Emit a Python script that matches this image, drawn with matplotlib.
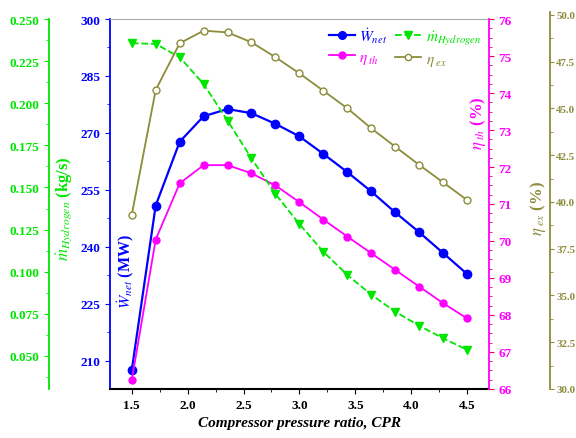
import numpy as np
import matplotlib
matplotlib.use("Agg")
import matplotlib.pyplot as plt
from matplotlib.ticker import MultipleLocator, FormatStrFormatter
from matplotlib.lines import Line2D

plt.rcParams["font.family"] = ["Liberation Serif", "DejaVu Serif"]
plt.rcParams["mathtext.fontset"] = "stix"

# compressor pressure ratio
cpr = [1.5, 1.714, 1.929, 2.143, 2.357, 2.571, 2.786, 3.0,
       3.214, 3.429, 3.643, 3.857, 4.071, 4.286, 4.5]

w_net = [207.6, 250.9, 267.7, 274.4, 276.3, 275.2, 272.4, 269.1,
         264.5, 259.7, 254.6, 249.1, 243.9, 238.4, 232.9]          # MW
m_h2 = [0.2356, 0.2352, 0.2273, 0.2114, 0.1897, 0.1673, 0.1461, 0.1283,
        0.1119, 0.0981, 0.0864, 0.0763, 0.0680, 0.0605, 0.0537]    # kg/s
eta_th = [66.24, 70.04, 71.56, 72.05, 72.05, 71.83, 71.50, 71.05,
          70.58, 70.12, 69.67, 69.22, 68.77, 68.32, 67.91]         # %
eta_ex = [39.32, 45.99, 48.49, 49.16, 49.07, 48.54, 47.74, 46.88,
          45.95, 45.01, 43.94, 42.96, 41.99, 41.05, 40.11]         # %

BLUE = "#0000ff"
GREEN = "#00e600"
MAGENTA = "#ff00ff"
OLIVE = "#8c8c3a"

tick_font = dict(family="Liberation Serif", weight="bold", size=9.5)

fig = plt.figure(figsize=(5.76, 4.39), dpi=100)
ax1 = fig.add_axes([0.19097, 0.11162, 0.65799, 0.84282])
ax2 = ax1.twinx()
ax3 = ax1.twinx()
ax4 = fig.add_axes([0.19097, 0.11162, 0.65799, 0.85877], sharex=ax1)
ax4.patch.set_visible(False)

# net power (left, inner)
ax1.plot(cpr, w_net, "-o", color=BLUE, lw=1.6, ms=6, zorder=3)
ax1.set_xlim(1.305, 4.697)
ax1.set_ylim(202.6, 300)
ax1.yaxis.set_major_locator(MultipleLocator(15))
ax1.yaxis.set_minor_locator(MultipleLocator(7.5))
ax1.xaxis.set_major_locator(MultipleLocator(0.5))
ax1.xaxis.set_minor_locator(MultipleLocator(0.25))
ax1.tick_params(axis="y", which="both", colors=BLUE, direction="out")
ax1.tick_params(axis="x", which="both", colors="black", direction="out")
for lab in ax1.get_yticklabels() + ax1.get_xticklabels():
    lab.set(**tick_font)
ax1.spines["top"].set_color("#aaaaaa")
ax1.spines["bottom"].set_color("black")
ax1.spines["bottom"].set_linewidth(1.5)
ax1.spines["left"].set_color(BLUE)
ax1.spines["left"].set_linewidth(1.3)
ax1.spines["right"].set_visible(False)
ax1.set_xlabel("Compressor pressure ratio, CPR", fontsize=11, fontweight="bold",
               fontstyle="italic", labelpad=4)
ax1.text(0.04, 0.32, r"$\dot{W}_{net}$ (MW)", transform=ax1.transAxes, rotation=90,
         color=BLUE, fontsize=11.5, fontweight="bold", ha="center", va="center")

# thermal efficiency (right, inner)
ax2.plot(cpr, eta_th, "-o", color=MAGENTA, lw=1.3, ms=5, zorder=3)
ax2.set_ylim(66, 76)
ax2.yaxis.set_major_locator(MultipleLocator(1))
ax2.yaxis.set_minor_locator(MultipleLocator(0.25))
ax2.tick_params(axis="y", which="both", colors="#ff0040", labelcolor=MAGENTA, direction="out")
for lab in ax2.get_yticklabels():
    lab.set(**tick_font)
for s in ["top", "bottom", "left"]:
    ax2.spines[s].set_visible(False)
ax2.spines["right"].set_color(MAGENTA)
ax2.spines["right"].set_linewidth(1.3)
ax2.text(0.971, 0.72, r"$\eta_{\ th}$ (%)", transform=ax2.transAxes, rotation=90,
         color=MAGENTA, fontsize=12, fontweight="bold", ha="center", va="center")

# hydrogen mass flow (left, outer)
ax3.plot(cpr, m_h2, "--v", color=GREEN, lw=1.3, ms=6, zorder=3)
ax3.set_ylim(0.0304, 0.250)
ax3.yaxis.set_major_locator(MultipleLocator(0.025))
ax3.yaxis.set_minor_locator(MultipleLocator(0.0125))
ax3.yaxis.set_major_formatter(FormatStrFormatter("%.3f"))
ax3.spines["left"].set_position(("axes", -0.161))
ax3.yaxis.set_ticks_position("left")
ax3.yaxis.set_label_position("left")
for s in ["top", "bottom", "right"]:
    ax3.spines[s].set_visible(False)
ax3.spines["left"].set_visible(True)
ax3.spines["left"].set_color(GREEN)
ax3.spines["left"].set_linewidth(1.3)
ax3.tick_params(axis="y", which="both", colors=GREEN, direction="out")
for lab in ax3.get_yticklabels():
    lab.set(**tick_font)
ax3.text(-0.121, 0.49, r"$\dot{m}_{Hydrogen}$ (kg/s)", transform=ax3.transAxes,
         rotation=90, color=GREEN, fontsize=12, fontweight="bold",
         ha="center", va="center")

# exergy efficiency (right, outer)
ax4.plot(cpr, eta_ex, "-o", color=OLIVE, lw=1.3, ms=5, mfc="white", mec=OLIVE,
         mew=1.0, zorder=3)
ax4.set_ylim(30, 50.16)
ax4.yaxis.set_major_locator(MultipleLocator(2.5))
ax4.yaxis.set_minor_locator(MultipleLocator(1.25))
ax4.yaxis.set_major_formatter(FormatStrFormatter("%.1f"))
ax4.yaxis.tick_right()
for s in ["top", "bottom", "left"]:
    ax4.spines[s].set_visible(False)
ax4.spines["right"].set_position(("axes", 1.161))
ax4.spines["right"].set_color(OLIVE)
ax4.spines["right"].set_linewidth(1.3)
ax4.tick_params(axis="y", which="both", colors=OLIVE, direction="out", pad=1.5)
ax4.tick_params(axis="y", which="major", length=3)
ax4.tick_params(axis="y", which="minor", length=2)
ax4.tick_params(axis="x", which="both", bottom=False, labelbottom=False)
for lab in ax4.get_yticklabels():
    lab.set(family="Liberation Serif", weight="bold", size=7.8)
ax4.text(1.129, 0.49, r"$\eta_{\ ex}$ (%)", transform=ax1.transAxes, rotation=90,
         color=OLIVE, fontsize=12, fontweight="bold", ha="center", va="center")

handles = [
    Line2D([0], [0], color=BLUE, marker="o", lw=1.6, ms=5.5),
    Line2D([0], [0], color=MAGENTA, marker="o", lw=1.3, ms=5),
    Line2D([0], [0], color=GREEN, marker="v", ls="--", lw=1.3, ms=5.5),
    Line2D([0], [0], color=OLIVE, marker="o", lw=1.3, ms=4.5, mfc="white"),
]
labels = [r"$\dot{W}_{net}$", r"$\eta_{\ th}$", r"$\dot{m}_{Hydrogen}$", r"$\eta_{\ ex}$"]
leg = ax4.legend(handles, labels, ncol=2, loc="upper right", frameon=False,
                 fontsize=11, handlelength=1.7, columnspacing=0.5, handletextpad=0.3,
                 borderaxespad=0.1, labelspacing=0.35, bbox_to_anchor=(1.0, 0.985))
for txt, c in zip(leg.get_texts(), [BLUE, MAGENTA, GREEN, OLIVE]):
    txt.set_color(c)

fig.savefig("out.png", dpi=100)
